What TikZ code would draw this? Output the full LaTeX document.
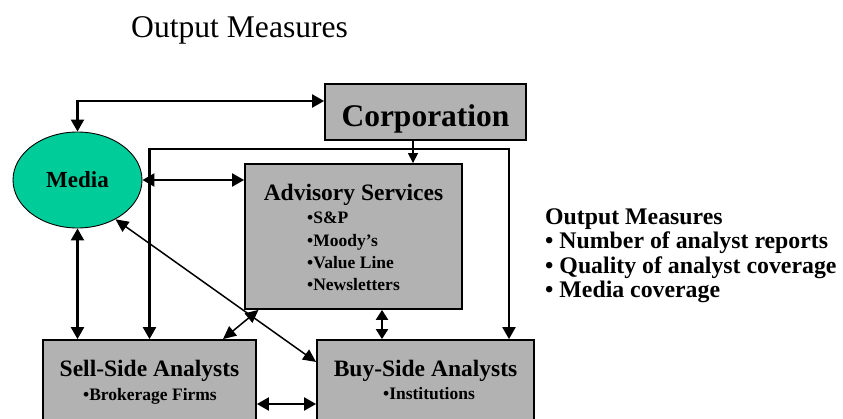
\documentclass[tikz,border=0pt]{standalone}
\usepackage{fontspec}
\setmainfont{Liberation Serif}
\usetikzlibrary{arrows.meta,shapes.geometric}

\definecolor{boxgray}{RGB}{178,178,178}
\definecolor{mediagreen}{RGB}{0,204,153}

\tikzset{
  box/.style={draw, line width=1.8pt, fill=boxgray, inner sep=0pt},
  head/.style={anchor=base, inner sep=0pt, font=\bfseries\fontsize{23.5}{26}\selectfont},
  item/.style={anchor=base west, inner sep=0pt, font=\bfseries\fontsize{17.5}{20}\selectfont},
  outline/.style={anchor=base west, inner sep=0pt, font=\bfseries\fontsize{23.8}{26}\selectfont},
  both/.style={line width=2.2pt, {Triangle[length=12pt,width=13pt]}-{Triangle[length=12pt,width=13pt]}},
  feed/.style={line width=2.2pt, -{Triangle[length=12pt,width=13pt]}},
  thin/.style={line width=1.5pt, {Triangle[length=13pt,width=12pt]}-{Triangle[length=13pt,width=12pt]}},
}

\begin{document}
\begin{tikzpicture}[x=1pt,y=-1pt]
  \useasboundingbox (0,0) rectangle (843,418);
  \clip (0,0) rectangle (843,418);

  % title
  \node[anchor=base west, inner sep=0pt, font=\fontsize{31.6}{36}\selectfont] (title) at (131,37) {Output Measures};

  % boxes
  \node[box, minimum width=201pt, minimum height=56pt] (corp) at (425.5,112) {};
  \node[box, minimum width=217pt, minimum height=145pt] (adv) at (353.5,236.5) {};
  \node[box, minimum width=213pt, minimum height=86pt] (sell) at (149.5,383) {};
  \node[box, minimum width=217pt, minimum height=86pt] (buy) at (425.5,383) {};
  \node[draw, fill=mediagreen, ellipse, line width=0.9pt, minimum width=129pt, minimum height=96pt, inner sep=0pt,
        font=\bfseries\fontsize{23}{26}\selectfont] (media) at (77.5,180) {Media};

  % box texts
  \node[anchor=base, inner sep=0pt, font=\bfseries\fontsize{31.5}{36}\selectfont] (corp-text) at (425.5,126) {Corporation};
  \node[head] (adv-text) at (353.5,200.5) {Advisory Services};
  \node[item] (adv-1) at (307,223) {•S\&P};
  \node[item] (adv-2) at (307,246.7) {•Moody’s};
  \node[item] (adv-3) at (307,268.5) {•Value Line};
  \node[item] (adv-4) at (307,290.7) {•Newsletters};
  \node[head] (sell-text) at (149.5,376.7) {Sell-Side Analysts};
  \node[item, anchor=base] (sell-1) at (150,400.7) {•Brokerage Firms};
  \node[head] (buy-text) at (425.5,376.7) {Buy-Side Analysts};
  \node[item, anchor=base] (buy-1) at (429,399.5) {•Institutions};

  % output measures list
  \node[outline] (out-title) at (545,224) {Output Measures};
  \node[outline] (out-1) at (545,248.5) {• Number of analyst reports};
  \node[outline] (out-2) at (545,273) {• Quality of analyst coverage};
  \node[outline] (out-3) at (545,297.5) {• Media coverage};

  % connectors
  \draw[both] (media.north) |- ([yshift=11pt]corp.west);
  \draw[line width=1.2pt, -{Triangle[length=10pt,width=10pt]}] ([xshift=-12.5pt]corp.south) -- ([xshift=-12.5pt]corp.south |- adv.north);
  \coordinate (split) at ([xshift=-12.5pt]corp.south |- 0,149);
  \draw[feed] (split) -| (sell.north);
  \draw[feed] (split) -| ([xshift=83.5pt]buy.north);
  \draw[both] (media.east) -- (adv.west |- media.east);
  \draw[both] (media.south) -- (sell.north -| media.south);
  \draw[thin] (media.-46) -- ([yshift=21pt]buy.west);
  \draw[thin] ([xshift=-95pt]adv.south) -- ([xshift=73.5pt]sell.north);
  \draw[line width=2.2pt, {Triangle[length=10pt,width=12pt]}-{Triangle[length=10pt,width=12pt]}] ([xshift=28.5pt]adv.south) -- ([xshift=28.5pt]adv.south |- buy.north);
  \draw[both] ([yshift=-21pt]sell.east) -- ([yshift=-21pt]buy.west);
\end{tikzpicture}
\end{document}
